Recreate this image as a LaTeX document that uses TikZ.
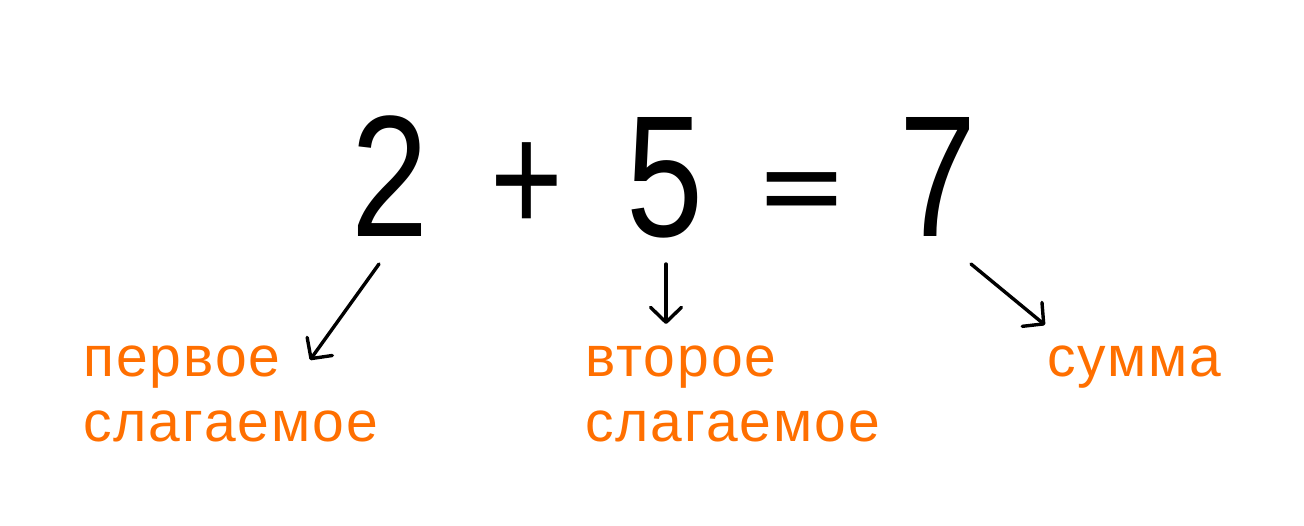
\documentclass[tikz,border=0pt]{standalone}
\usepackage{fontspec}
\setmainfont{Liberation Sans}
\newfontfamily\labfont[LetterSpace=3.5]{Liberation Sans}
\usetikzlibrary{arrows.meta}
\definecolor{lab}{RGB}{255,111,0}
\begin{document}
\begin{tikzpicture}[x=1pt,y=-1pt,
  num/.style={inner sep=0pt, anchor=base, font=\fontsize{173}{173}\selectfont},
  lbl/.style={inner sep=0pt, anchor=base west, text=lab, align=left,
    font=\labfont\fontsize{57}{65}\selectfont},
  arr/.style={line width=3.4pt, line cap=round, line join=round,
    -{Straight Barb[length=15pt,width=31pt,line cap=round,round]}}]
\useasboundingbox (0,0) rectangle (1304,526);
\node[num] (two) at (390,237) {\scalebox{0.8}[1]{2}};
\node[num] (plus) at (527,232.5) {\scalebox{0.72}[0.9]{+}};
\node[num] (five) at (665,237) {\scalebox{0.8}[1]{5}};
\node[num] (eq) at (802,218.5) {\scalebox{0.8}[0.51]{\bfseries =}};
\node[num] (seven) at (938,237) {\scalebox{0.8}[1]{7}};
\node[lbl] (l1) at (83,442) {первое\\слагаемое};
\node[lbl] (l2) at (585,442) {второе\\слагаемое};
\node[lbl] (l3) at (1047,377) {сумма};
\coordinate (s1) at (379,264);
\coordinate (e1) at (310,360);
\coordinate (s2) at (666,264);
\coordinate (e2) at (666,324);
\coordinate (s3) at (971,264);
\coordinate (e3) at (1045,325);
\draw[arr] (s1) -- (e1);
\draw[arr] (s2) -- (e2);
\draw[arr] (s3) -- (e3);
\end{tikzpicture}
\end{document}
